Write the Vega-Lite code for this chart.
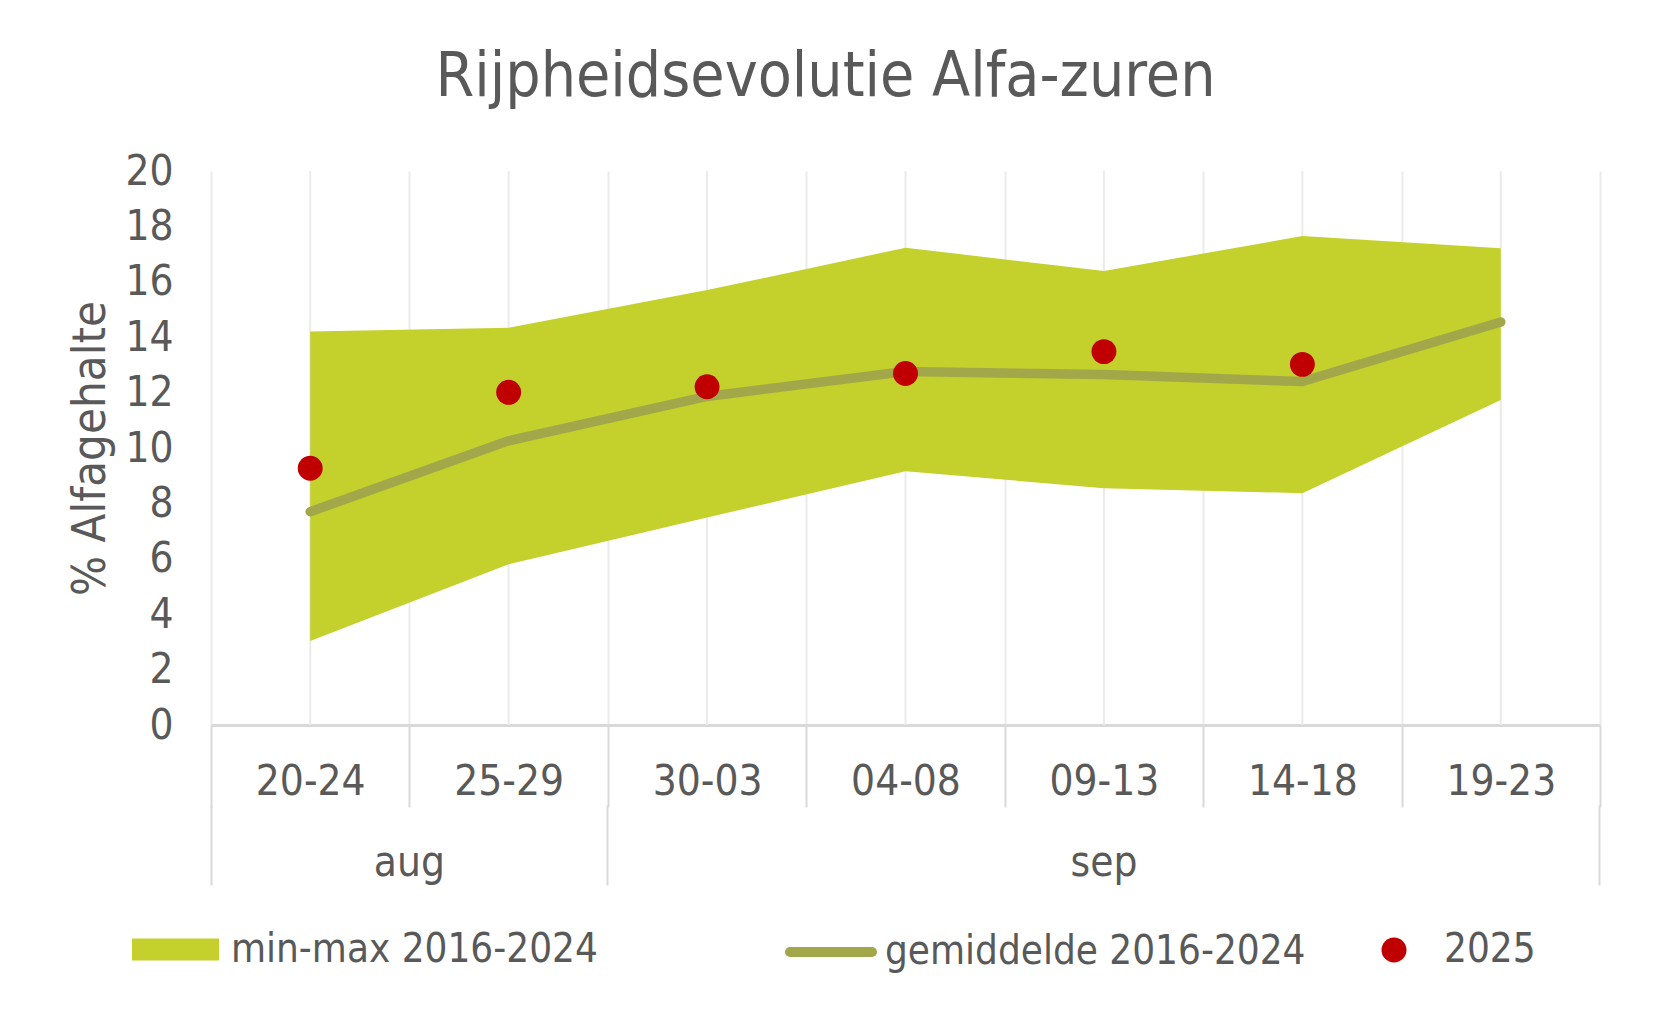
{
  "$schema": "https://vega.github.io/schema/vega-lite/v6.json",
  "width": 1389,
  "height": 554,
  "autosize": {"type": "none"},
  "padding": {"left": 211, "top": 171, "right": 53, "bottom": 290},
  "background": "white",
  "config": {
    "view": {"stroke": null},
    "font": "DejaVu Sans Condensed, DejaVu Sans, sans-serif",
    "axis": {"labelFont": "DejaVu Sans Condensed, DejaVu Sans, sans-serif", "titleFont": "DejaVu Sans Condensed, DejaVu Sans, sans-serif"},
    "legend": {"labelFont": "DejaVu Sans Condensed, DejaVu Sans, sans-serif", "labelLimit": 0}
  },
  "title": {
    "text": "Rijpheidsevolutie Alfa-zuren",
    "fontSize": 62,
    "fontWeight": "normal",
    "color": "#595959",
    "anchor": "middle",
    "dx": -80,
    "dy": 9,
    "baseline": "alphabetic",
    "offset": 1
  },
  "data": {
    "values": [
      {"wk": "20-24", "month": "aug", "max": 14.21, "min": 3.03, "mean": 7.7, "v2025": 9.27},
      {"wk": "25-29", "month": "aug", "max": 14.34, "min": 5.8, "mean": 10.26, "v2025": 12.01},
      {"wk": "30-03", "month": "sep", "max": 15.7, "min": 7.49, "mean": 11.86, "v2025": 12.21},
      {"wk": "04-08", "month": "sep", "max": 17.23, "min": 9.16, "mean": 12.76, "v2025": 12.69},
      {"wk": "09-13", "month": "sep", "max": 16.39, "min": 8.55, "mean": 12.65, "v2025": 13.48},
      {"wk": "14-18", "month": "sep", "max": 17.65, "min": 8.37, "mean": 12.4, "v2025": 13.02},
      {"wk": "19-23", "month": "sep", "max": 17.21, "min": 11.73, "mean": 14.55, "v2025": null}
    ]
  },
  "resolve": {"axis": {"x": "independent"}},
  "layer": [
    {
      "mark": {"type": "rule", "color": "#EBEBEB", "strokeWidth": 2},
      "encoding": {
        "x": {"field": "wk", "type": "nominal", "bandPosition": 0.5, "axis": null,
              "scale": {"type": "band", "paddingInner": 0, "paddingOuter": 0, "domain": ["20-24", "25-29", "30-03", "04-08", "09-13", "14-18", "19-23"]}}
      }
    },
    {
      "mark": {"type": "area", "opacity": 1},
      "encoding": {
        "x": {"field": "wk", "type": "nominal", "bandPosition": 0.5, "sort": null,
              "axis": {
                "orient": "bottom",
                "title": null, "tickBand": "extent", "grid": true, "gridColor": "#EBEBEB", "gridWidth": 2,
                "domainColor": "#D9D9D9", "domainWidth": 3, "tickColor": "#D9D9D9", "tickWidth": 2, "tickSize": 82,
                "labelFontSize": 42, "labelColor": "#595959", "labelPadding": -13, "labelBaseline": "alphabetic",
                "labelAngle": 0, "labelOverlap": false, "labelFlush": false
              }},
        "y": {"field": "max", "type": "quantitative",
              "scale": {"domain": [0, 20], "nice": false},
              "axis": {
                "orient": "left",
                "title": "% Alfagehalte", "values": [0, 2, 4, 6, 8, 10, 12, 14, 16, 18, 20],
                "grid": false, "domain": false, "ticks": false, "labelPadding": 38,
                "labelFontSize": 42, "labelColor": "#595959",
                "titleFontSize": 47, "titleColor": "#595959", "titleFontWeight": "normal", "titlePadding": 10
              }},
        "y2": {"field": "min"},
        "fill": {"datum": "min-max 2016-2024", "type": "nominal",
                 "scale": {"range": ["#C4D02C"]},
                 "legend": {"title": null, "orient": "none", "legendX": -79, "legendY": 735,
                            "symbolType": "M-1,-0.253H1V0.253H-1Z", "symbolSize": 7569, "symbolStrokeWidth": 0,
                            "labelFontSize": 40, "labelColor": "#595959", "labelOffset": 12, "padding": 0}}
      }
    },
    {
      "mark": {"type": "line", "strokeWidth": 9.5, "strokeCap": "round", "strokeJoin": "round"},
      "encoding": {
        "x": {"field": "wk", "type": "nominal", "bandPosition": 0.5, "sort": null,
              "axis": {
                "orient": "bottom",
                "title": null, "offset": 80, "domain": false, "grid": false,
                "bandPosition": 1, "tickExtra": true,
                "tickColor": "#D9D9D9", "tickWidth": 2, "tickSize": 80,
                "tickOpacity": {"condition": {"test": "datum.extra || datum.value == '25-29' || datum.value == '19-23'", "value": 1}, "value": 0},
                "labelExpr": "datum.value == '20-24' ? 'aug' : datum.value == '09-13' ? 'sep' : ''",
                "labelOffset": {"condition": {"test": "datum.value == '20-24'", "value": 99.2}, "value": 0},
                "labelFontSize": 42, "labelColor": "#595959", "labelPadding": -10, "labelBaseline": "alphabetic",
                "labelAngle": 0, "labelOverlap": false, "labelFlush": false
              }},
        "y": {"field": "mean", "type": "quantitative"},
        "stroke": {"datum": "gemiddelde 2016-2024", "type": "nominal",
                   "scale": {"range": ["#A2A84A"]},
                   "legend": {"title": null, "orient": "none", "legendX": 574, "legendY": 735,
                              "symbolType": "stroke", "symbolSize": 6724, "symbolStrokeWidth": 10,
                              "labelFontSize": 40, "labelColor": "#595959", "labelOffset": 8, "padding": 0,
                              "encode": {"symbols": {"update": {"strokeCap": {"value": "round"}}}}}}
      }
    },
    {
      "mark": {"type": "point", "filled": true, "opacity": 1, "size": 620},
      "encoding": {
        "x": {"field": "wk", "type": "nominal", "bandPosition": 0.5, "sort": null, "axis": null},
        "y": {"field": "v2025", "type": "quantitative"},
        "color": {"datum": "2025", "type": "nominal",
                  "scale": {"range": ["#C00000"]},
                  "legend": {"title": null, "orient": "none", "legendX": 1163, "legendY": 759,
                             "symbolType": "circle", "symbolSize": 625, "symbolOpacity": 1,
                             "labelFontSize": 40, "labelColor": "#595959", "labelOffset": 30, "padding": 0}}
      }
    }
  ]
}
